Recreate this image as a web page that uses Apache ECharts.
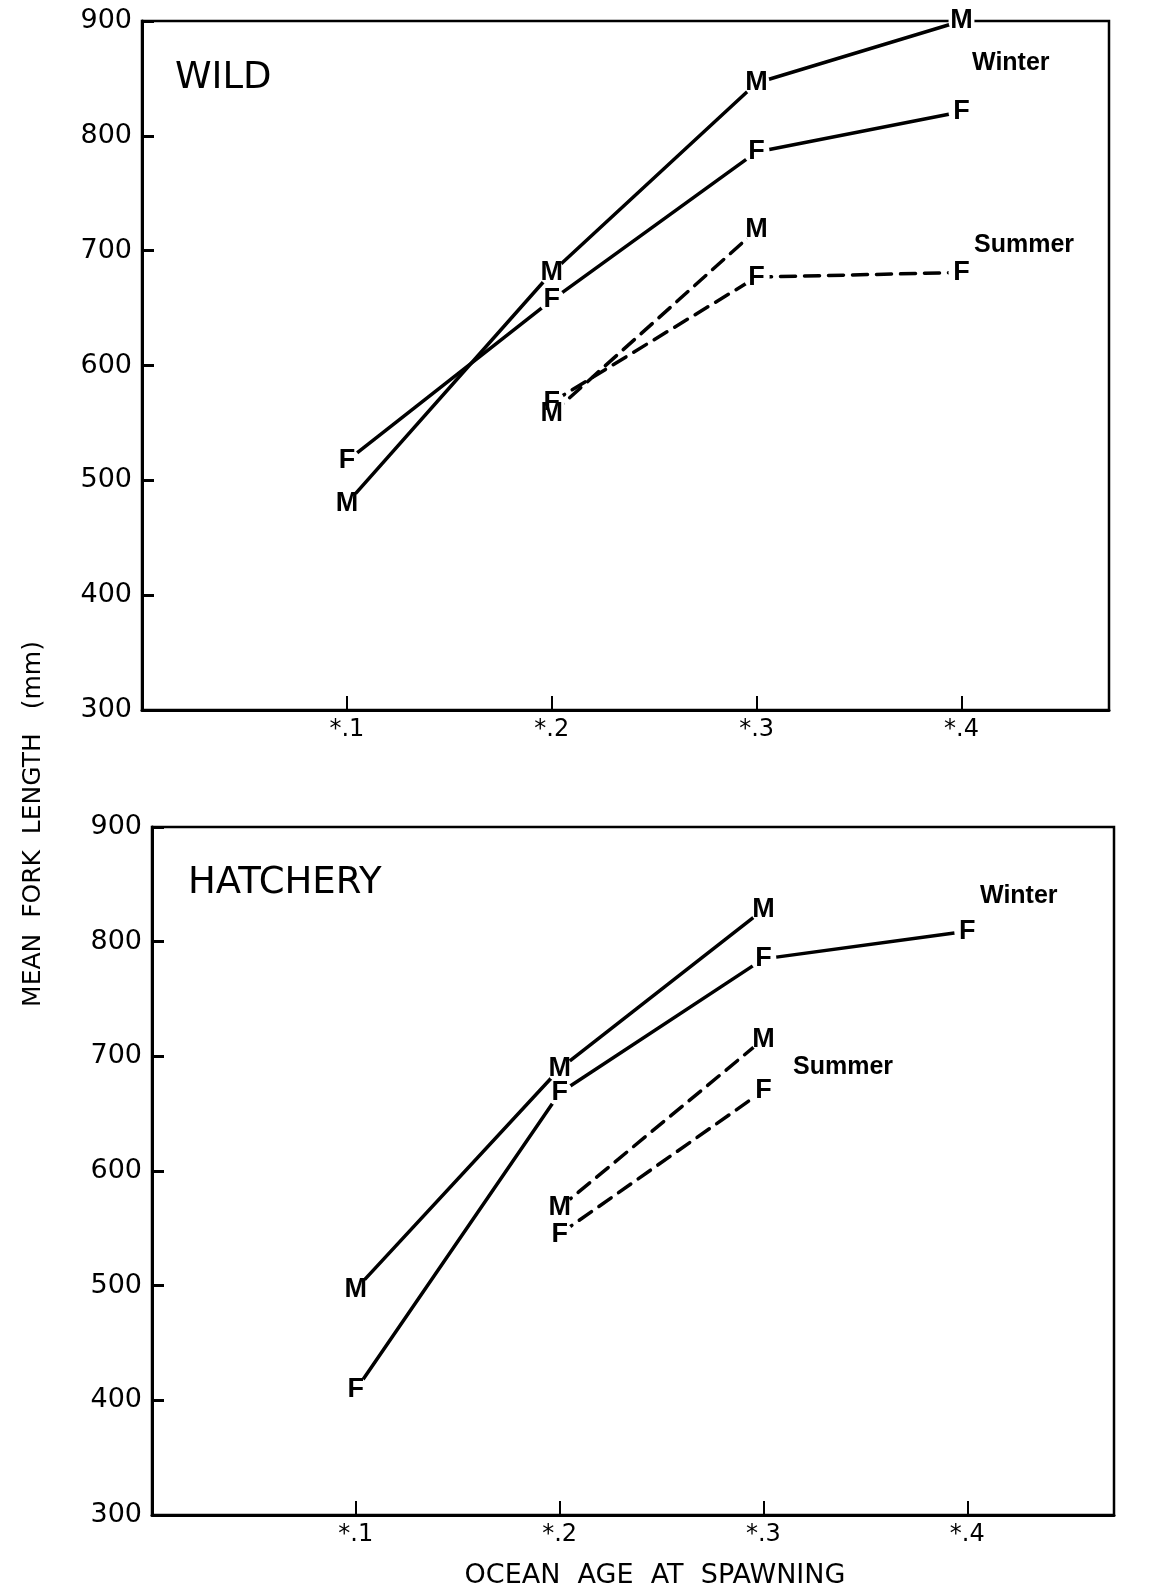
<!DOCTYPE html>
<html><head><meta charset="utf-8">
<script src="https://cdn.jsdelivr.net/npm/echarts@6/dist/echarts.min.js"></script>
<style>html,body{margin:0;padding:0;background:#fff}#chart{width:1170px;height:1591px}</style>
</head><body><div id="chart"></div>
<script>
// ---- data ----
const oceanAge = [1, 2, 3, 4];
const xTickLabels = ['*.1', '*.2', '*.3', '*.4'];
const yTicks = [300, 400, 500, 600, 700, 800, 900];

const wildWinterMale     = [480, 681, 846, 900];
const wildWinterFemale   = [517, 657, 786, 821];
const wildSummerMale     = [null, 558, 718, null];
const wildSummerFemale   = [null, 568, 677, 681];

const hatcheryWinterMale   = [497, 689, 828, null];
const hatcheryWinterFemale = [409, 668, 785, 809];
const hatcherySummerMale   = [null, 568, 715, null];
const hatcherySummerFemale = [null, 545, 670, null];

// ---- helpers ----
function pts(arr) {
  const out = [];
  oceanAge.forEach((x, i) => { if (arr[i] != null) out.push([x, arr[i]]); });
  return out;
}
const FONT = 'DejaVu Sans';
function lineSeries(arr, idx, dashed) {
  return {
    type: 'line', xAxisIndex: idx, yAxisIndex: idx, data: pts(arr),
    symbol: 'none', silent: true, z: 2,
    lineStyle: { color: '#000', width: 3.5, type: dashed ? [15, 9] : 'solid', cap: 'round' }
  };
}
function letterSeries(arr, idx, letter) {
  return {
    type: 'scatter', xAxisIndex: idx, yAxisIndex: idx, data: pts(arr),
    symbol: 'circle', symbolSize: 26, silent: true, z: 3,
    itemStyle: { color: '#fff', borderWidth: 0, opacity: 1 },
    label: { show: true, position: 'inside', formatter: letter, color: '#000', opacity: 1,
             fontSize: 27, fontWeight: 'bold', fontFamily: 'Liberation Sans' }
  };
}
function xAxisCfg(idx) {
  return {
    type: 'value', gridIndex: idx, min: 0, max: 4.72, interval: 1,
    splitLine: { show: false },
    axisLine: { show: true, onZero: false, lineStyle: { color: '#000', width: 3 } },
    axisTick: { show: true, inside: true, length: 14, lineStyle: { color: '#000', width: 2 } },
    axisLabel: { color: '#000', fontSize: 24, fontFamily: FONT, margin: 8,
      formatter: v => { const i = oceanAge.indexOf(v); return i >= 0 ? xTickLabels[i] : ''; } }
  };
}
function yAxisCfg(idx) {
  return {
    type: 'value', gridIndex: idx, min: yTicks[0], max: yTicks[yTicks.length - 1], interval: 100,
    splitLine: { show: false },
    axisLine: { show: true, onZero: false, lineStyle: { color: '#000', width: 3 } },
    axisTick: { show: true, inside: true, length: 12, lineStyle: { color: '#000', width: 3 } },
    axisLabel: { color: '#000', fontSize: 27, fontFamily: FONT, margin: 10,
      formatter: v => String(v) }
  };
}
function txt(text, x, y, size, weight, align) {
  return { type: 'text', x: x, y: y, silent: true,
    style: { text: text, fill: '#000', font: (weight || 'normal') + ' ' + size + 'px "' + (weight === 'bold' ? 'Liberation Sans' : FONT) + '"',
      textAlign: align || 'left', textVerticalAlign: 'middle', align: align || 'left', verticalAlign: 'middle' } };
}

const chart = echarts.init(document.getElementById('chart'), null, { renderer: 'canvas' });
chart.setOption({
  animation: false,
  backgroundColor: '#fff',
  grid: [
    { left: 142, top: 21, width: 967, height: 689, show: true, borderColor: '#000', borderWidth: 2.5, containLabel: false },
    { left: 152, top: 827, width: 962, height: 688, show: true, borderColor: '#000', borderWidth: 2.5, containLabel: false }
  ],
  xAxis: [xAxisCfg(0), xAxisCfg(1)],
  yAxis: [yAxisCfg(0), yAxisCfg(1)],
  series: [
    lineSeries(wildWinterMale, 0, false),
    lineSeries(wildWinterFemale, 0, false),
    lineSeries(wildSummerMale, 0, true),
    lineSeries(wildSummerFemale, 0, true),
    lineSeries(hatcheryWinterMale, 1, false),
    lineSeries(hatcheryWinterFemale, 1, false),
    lineSeries(hatcherySummerMale, 1, true),
    lineSeries(hatcherySummerFemale, 1, true),
    letterSeries(wildWinterMale, 0, 'M'),
    letterSeries(wildWinterFemale, 0, 'F'),
    letterSeries(wildSummerMale, 0, 'M'),
    letterSeries(wildSummerFemale, 0, 'F'),
    letterSeries(hatcheryWinterMale, 1, 'M'),
    letterSeries(hatcheryWinterFemale, 1, 'F'),
    letterSeries(hatcherySummerMale, 1, 'M'),
    letterSeries(hatcherySummerFemale, 1, 'F')
  ],
  graphic: [
    txt('WILD', 175, 78, 37, 'normal'),
    txt('HATCHERY', 188, 883, 37, 'normal'),
    txt('Winter', 972, 63, 25, 'bold'),
    txt('Summer', 974, 245, 25, 'bold'),
    txt('Winter', 980, 896, 25, 'bold'),
    txt('Summer', 793, 1067, 25, 'bold'),
    txt('OCEAN  AGE  AT  SPAWNING', 655, 1576, 27, 'normal', 'center'),
    Object.assign(txt('MEAN  FORK  LENGTH   (mm)', 0, 0, 25, 'normal', 'center'), { x: 33, y: 824, rotation: Math.PI / 2 })
  ]
});
</script>
</body></html>
